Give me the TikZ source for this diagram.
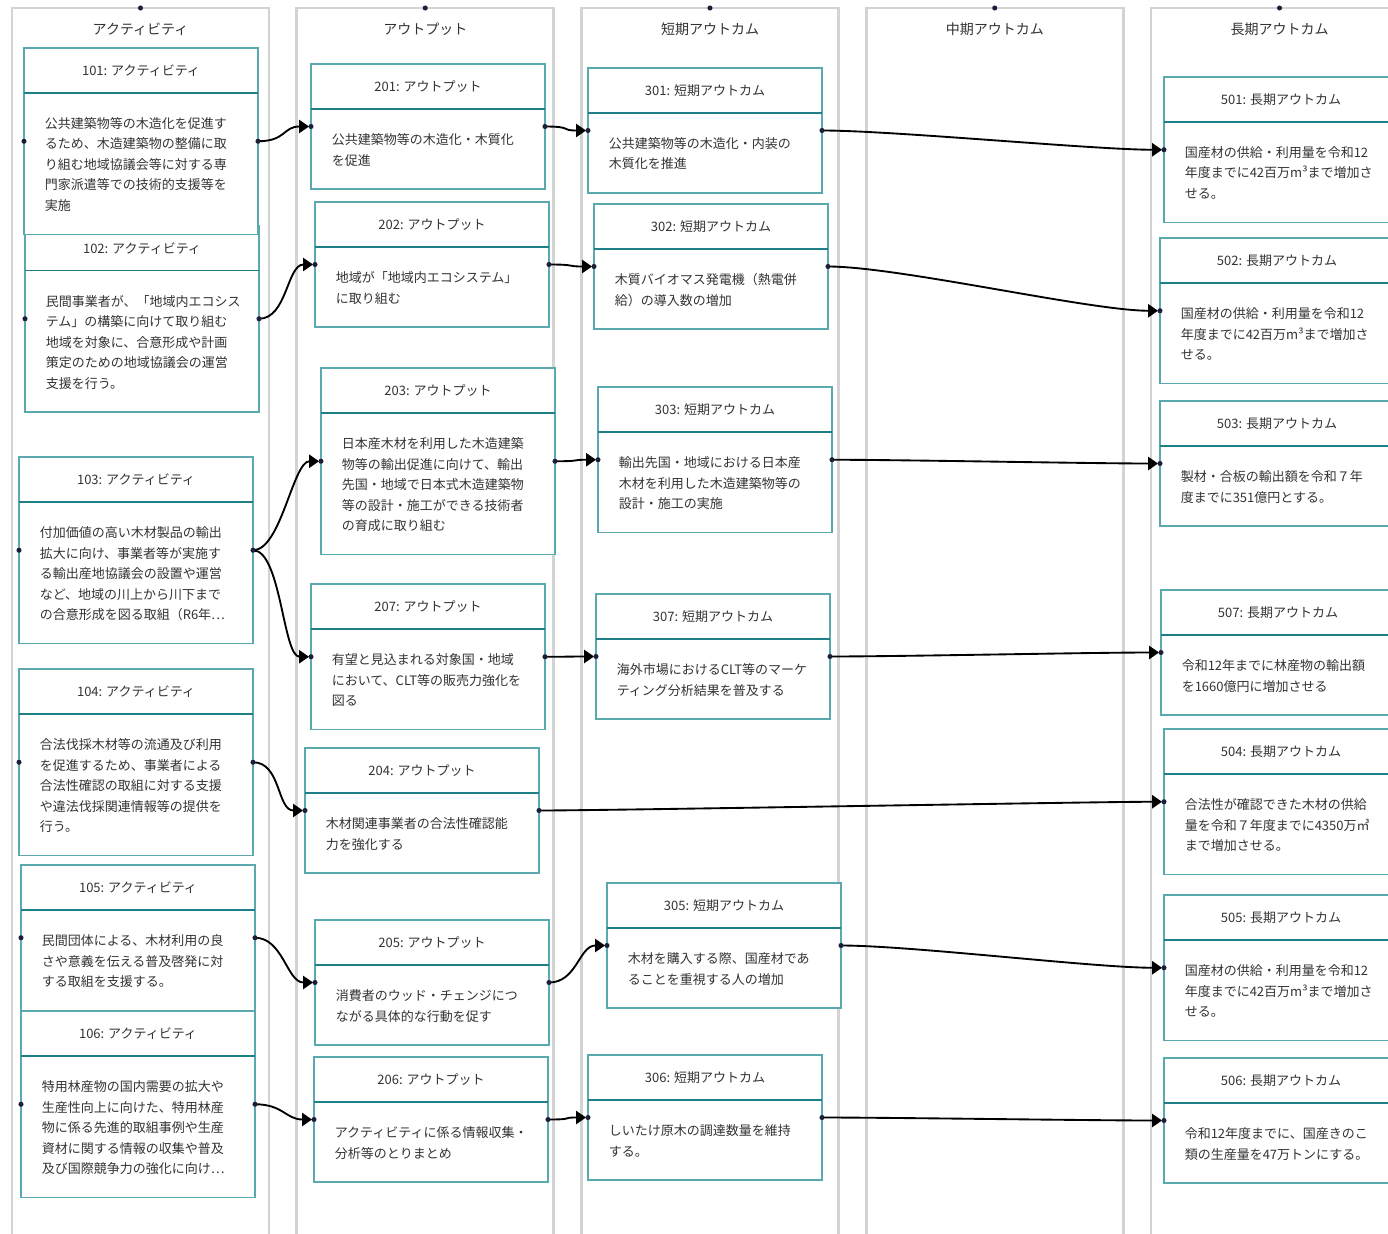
\documentclass[tikz,border=0pt]{standalone}
\usepackage{fontspec}
\setmainfont{Noto Sans CJK JP}
\usetikzlibrary{arrows.meta}
\definecolor{colgray}{HTML}{D3D3D3}
\definecolor{boxteal}{HTML}{5AA9AE}
\definecolor{septeal}{HTML}{1F7F86}
\definecolor{txtc}{HTML}{333333}
\definecolor{dotcol}{HTML}{1E1E3C}
\newcommand\lmbodyfont{\fontsize{9.75pt}{15.375pt}\selectfont}
\tikzset{
 colline/.style={draw=colgray, line width=2.2pt},
 lmframe/.style={draw=boxteal, fill=white, line width=1.1pt, anchor=north west, inner sep=0pt, outer sep=0pt, minimum width=175.5pt},
 sepline/.style={draw=septeal, line width=1.1pt},
 hdrtxt/.style={anchor=base, inner sep=0pt, text=txtc, font=\fontsize{9.75pt}{12pt}\selectfont},
 bodytxt/.style={anchor=base west, inner sep=0pt, text=txtc, font=\lmbodyfont},
 coltitle/.style={anchor=base, inner sep=0pt, text=txtc, font=\fontsize{10.5pt}{12pt}\selectfont},
 conn/.style={draw=black, line width=1.4pt, -{Triangle[length=7.5pt,width=10pt]}, shorten >=1.5pt},
 dotfill/.style={fill=dotcol}
}
% #1 id, #2 left x, #3 top y, #4 number of lines, #5 header, #6 body
\newcommand\lmbox[6]{%
  \node[lmframe, minimum height={(84+20.5*#4)*0.75pt}] (n#1) at (#2,#3) {};
  \draw[sepline] (#2,#3+45) -- (#2+234,#3+45);
  \node[hdrtxt] (h#1) at (#2+117,#3+27.5) {#5};
  \node[bodytxt] (t#1) at (#2+20.5,#3+80.5) {\parbox[t]{180pt}{\raggedright #6}};
}
% #1 id, #2 left x, #3 title
\newcommand\lmcol[3]{%
  \draw[colline] (#2,1260) -- (#2,8) -- (#2+257,8) -- (#2+257,1260);
  \node[coltitle] (c#1) at (#2+128.5,34.8) {#3};
  \coordinate (ct#1) at (#2+128.5,8);
  \fill[dotfill] (ct#1) circle (1.9pt);
}
\begin{document}
\begin{tikzpicture}[x=0.75pt,y=-0.75pt]
\useasboundingbox (0,0) rectangle (1388,1234);
\clip (0,0) rectangle (1388,1234);
\fill[white] (0,0) rectangle (1388,1234);
% columns
\lmcol{1}{12}{アクティビティ}
\lmcol{2}{296.75}{アウトプット}
\lmcol{3}{581.5}{短期アウトカム}
\lmcol{4}{866.25}{中期アウトカム}
\lmcol{5}{1151}{長期アウトカム}
% activities
\lmbox{102}{25}{225.5}{5}{102: アクティビティ}{民間事業者が、「地域内エコシス\\テム」の構築に向けて取り組む\\地域を対象に、合意形成や計画\\策定のための地域協議会の運営\\支援を行う。}
\lmbox{101}{24}{48}{5}{101: アクティビティ}{公共建築物等の木造化を促進す\\るため、木造建築物の整備に取\\り組む地域協議会等に対する専\\門家派遣等での技術的支援等を\\実施}
\lmbox{103}{19}{457}{5}{103: アクティビティ}{付加価値の高い木材製品の輸出\\拡大に向け、事業者等が実施す\\る輸出産地協議会の設置や運営\\など、地域の川上から川下まで\\の合意形成を図る取組（R6年⋯}
\lmbox{104}{19}{669}{5}{104: アクティビティ}{合法伐採木材等の流通及び利用\\を促進するため、事業者による\\合法性確認の取組に対する支援\\や違法伐採関連情報等の提供を\\行う。}
\lmbox{105}{21}{865}{3}{105: アクティビティ}{民間団体による、木材利用の良\\さや意義を伝える普及啓発に対\\する取組を支援する。}
\lmbox{106}{21}{1011}{5}{106: アクティビティ}{特用林産物の国内需要の拡大や\\生産性向上に向けた、特用林産\\物に係る先進的取組事例や生産\\資材に関する情報の収集や普及\\及び国際競争力の強化に向け⋯}
% outputs
\lmbox{201}{311}{64}{2}{201: アウトプット}{公共建築物等の木造化・木質化\\を促進}
\lmbox{202}{315}{202}{2}{202: アウトプット}{地域が「地域内エコシステム」\\に取り組む}
\lmbox{203}{321}{368}{5}{203: アウトプット}{日本産木材を利用した木造建築\\物等の輸出促進に向けて、輸出\\先国・地域で日本式木造建築物\\等の設計・施工ができる技術者\\の育成に取り組む}
\lmbox{207}{311}{584}{3}{207: アウトプット}{有望と見込まれる対象国・地域\\において、CLT等の販売力強化を\\図る}
\lmbox{204}{305}{748}{2}{204: アウトプット}{木材関連事業者の合法性確認能\\力を強化する}
\lmbox{205}{315}{920}{2}{205: アウトプット}{消費者のウッド・チェンジにつ\\ながる具体的な行動を促す}
\lmbox{206}{314}{1057}{2}{206: アウトプット}{アクティビティに係る情報収集・\\分析等のとりまとめ}
% short-term outcomes
\lmbox{301}{588}{68}{2}{301: 短期アウトカム}{公共建築物等の木造化・内装の\\木質化を推進}
\lmbox{302}{594}{204}{2}{302: 短期アウトカム}{木質バイオマス発電機（熱電併\\給）の導入数の増加}
\lmbox{303}{598}{387}{3}{303: 短期アウトカム}{輸出先国・地域における日本産\\木材を利用した木造建築物等の\\設計・施工の実施}
\lmbox{307}{596}{594}{2}{307: 短期アウトカム}{海外市場におけるCLT等のマーケ\\ティング分析結果を普及する}
\lmbox{305}{607}{883}{2}{305: 短期アウトカム}{木材を購入する際、国産材であ\\ることを重視する人の増加}
\lmbox{306}{588}{1055}{2}{306: 短期アウトカム}{しいたけ原木の調達数量を維持\\する。}
% long-term outcomes
\lmbox{501}{1164}{77}{3}{501: 長期アウトカム}{国産材の供給・利用量を令和12\\年度までに42百万m³まで増加さ\\せる。}
\lmbox{502}{1160}{238}{3}{502: 長期アウトカム}{国産材の供給・利用量を令和12\\年度までに42百万m³まで増加さ\\せる。}
\lmbox{503}{1160}{401}{2}{503: 長期アウトカム}{製材・合板の輸出額を令和７年\\度までに351億円とする。}
\lmbox{507}{1161}{590}{2}{507: 長期アウトカム}{令和12年までに林産物の輸出額\\を1660億円に増加させる}
\lmbox{504}{1164}{729}{3}{504: 長期アウトカム}{合法性が確認できた木材の供給\\量を令和７年度までに4350万㎥\\まで増加させる。}
\lmbox{505}{1164}{895}{3}{505: 長期アウトカム}{国産材の供給・利用量を令和12\\年度までに42百万m³まで増加さ\\せる。}
\lmbox{506}{1164}{1058}{2}{506: 長期アウトカム}{令和12年度までに、国産きのこ\\類の生産量を47万トンにする。}
% connectors (short, between neighbouring columns)
\foreach \a/\b in {101/201,102/202,103/203,103/207,104/204,105/205,106/206,
  201/301,202/302,203/303,207/307,205/305,206/306}
  \draw[conn] (n\a.east) .. controls +(28,0) and +(-28,0) .. (n\b.west);
% connectors (long, to the long-term column)
\foreach \a/\b in {301/501,302/502,303/503,307/507,204/504,305/505,306/506}
  \draw[conn] (n\a.east) .. controls +(70,0) and +(-70,0) .. (n\b.west);
% connection dots
\foreach \i in {101,102,103,104,105,106,201,202,203,207,204,205,206,301,302,303,307,305,306,501,502,503,507,504,505,506}{
  \fill[dotfill] (n\i.west) circle (1.9pt);
  \fill[dotfill] (n\i.east) circle (1.9pt);
}
\end{tikzpicture}
\end{document}
